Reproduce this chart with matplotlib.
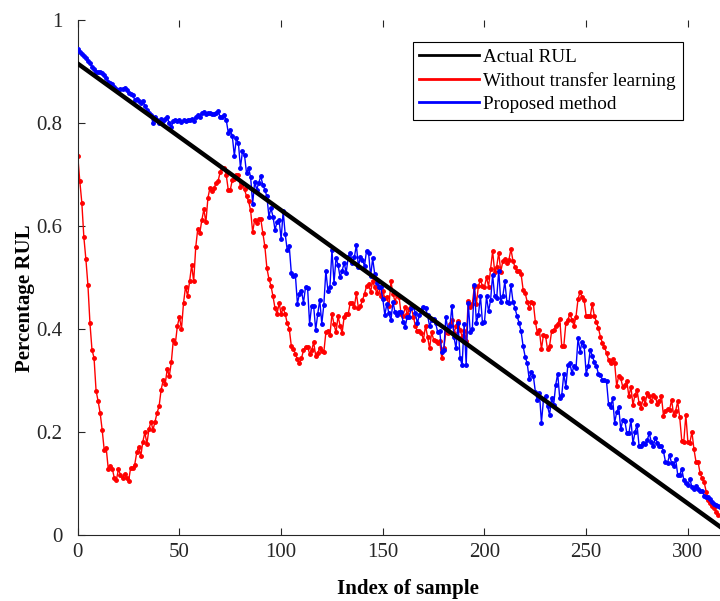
import numpy as np
import matplotlib
matplotlib.use("Agg")
from matplotlib import pyplot as plt

plt.rcParams['font.family'] = ['Liberation Serif', 'DejaVu Serif']

# actual RUL: straight line, end points
actual_x = [0, 315.8]
actual_y = [0.915, 0.016]

# without transfer learning (red), one value per sample
red = [
    0.735, 0.687, 0.645, 0.578, 0.535, 0.485, 0.411, 0.359, 0.344, 0.280,
    0.260, 0.237, 0.204, 0.165, 0.168, 0.128, 0.134, 0.128, 0.110, 0.107,
    0.127, 0.117, 0.110, 0.119, 0.110, 0.105, 0.130, 0.130, 0.136, 0.160,
    0.171, 0.153, 0.181, 0.199, 0.177, 0.205, 0.220, 0.204, 0.220, 0.237,
    0.250, 0.282, 0.300, 0.293, 0.322, 0.308, 0.335, 0.379, 0.372, 0.406,
    0.423, 0.400, 0.450, 0.482, 0.464, 0.492, 0.524, 0.492, 0.558, 0.594,
    0.586, 0.611, 0.632, 0.607,
    0.654, 0.674, 0.667, 0.673, 0.683, 0.687, 0.704, 0.713, 0.713, 0.699,
    0.670, 0.670, 0.689, 0.691, 0.699, 0.699, 0.675, 0.682, 0.671, 0.657,
    0.648, 0.630, 0.588, 0.612, 0.606, 0.613, 0.613, 0.586, 0.560, 0.518,
    0.497, 0.484, 0.463, 0.440, 0.429, 0.450, 0.429, 0.440, 0.429, 0.411,
    0.400, 0.367, 0.361, 0.352, 0.341, 0.333, 0.343, 0.358, 0.365, 0.365,
    0.352, 0.358, 0.374, 0.348, 0.353, 0.363, 0.357, 0.355, 0.393, 0.396,
    0.388, 0.429, 0.409, 0.393,
    0.425, 0.406, 0.392, 0.424, 0.429, 0.429, 0.451, 0.451, 0.443, 0.469,
    0.440, 0.444, 0.456, 0.468, 0.483, 0.487, 0.472, 0.492, 0.482, 0.470,
    0.481, 0.464, 0.474, 0.459, 0.462, 0.444, 0.492, 0.468, 0.453, 0.466,
    0.462, 0.428, 0.425, 0.443, 0.429, 0.438, 0.442, 0.424, 0.406, 0.395,
    0.395, 0.392, 0.379, 0.406, 0.385, 0.362, 0.393, 0.379, 0.376, 0.373,
    0.376, 0.343, 0.362, 0.393, 0.392, 0.410, 0.417, 0.392, 0.405, 0.415,
    0.398, 0.385, 0.395, 0.376,
    0.455, 0.443, 0.448, 0.482, 0.448, 0.483, 0.495, 0.483, 0.482, 0.500,
    0.482, 0.516, 0.551, 0.511, 0.521, 0.548, 0.511, 0.531, 0.536, 0.528,
    0.534, 0.555, 0.532, 0.520, 0.513, 0.513, 0.506, 0.476, 0.469, 0.453,
    0.440, 0.453, 0.451, 0.414, 0.392, 0.397, 0.360, 0.389, 0.387, 0.360,
    0.367, 0.395, 0.397, 0.405, 0.410, 0.419, 0.366, 0.367, 0.411, 0.418,
    0.429, 0.418, 0.406, 0.424, 0.458, 0.472, 0.461, 0.456, 0.425, 0.425,
    0.425, 0.448, 0.425,
    0.414, 0.401, 0.385, 0.372, 0.365, 0.353, 0.340, 0.333, 0.341, 0.333,
    0.289, 0.309, 0.304, 0.287, 0.291, 0.298, 0.269, 0.288, 0.252,
    0.272, 0.281, 0.256, 0.246, 0.266, 0.254, 0.275, 0.269, 0.259,
    0.272, 0.268, 0.254, 0.259, 0.270, 0.231, 0.241, 0.244, 0.243,
    0.262, 0.233, 0.241, 0.259, 0.228, 0.183, 0.181, 0.233, 0.181, 0.179,
    0.200, 0.166, 0.142, 0.142, 0.120, 0.110, 0.102, 0.084, 0.067, 0.062,
    0.057, 0.052, 0.045, 0.039,
]

# proposed method (blue), one value per sample
blue = [
    0.943, 0.938, 0.934, 0.930, 0.925, 0.921, 0.917, 0.909, 0.904, 0.899,
    0.899, 0.899, 0.897, 0.893, 0.888, 0.880, 0.877, 0.875, 0.870, 0.865,
    0.864, 0.865, 0.866, 0.868, 0.864, 0.857, 0.856, 0.854, 0.845, 0.847,
    0.842, 0.839, 0.843, 0.833, 0.825,
    0.820, 0.815, 0.799, 0.812, 0.806, 0.799, 0.807, 0.803, 0.807, 0.811,
    0.799, 0.792, 0.803, 0.806, 0.803, 0.806, 0.801, 0.805, 0.803, 0.806,
    0.805, 0.807, 0.803, 0.812, 0.815, 0.812, 0.819, 0.822,
    0.817, 0.819, 0.819, 0.817, 0.817, 0.820, 0.823, 0.812, 0.811, 0.815,
    0.806, 0.781, 0.787, 0.774, 0.736, 0.770, 0.760, 0.713, 0.745, 0.737,
    0.702, 0.712, 0.695, 0.643, 0.686, 0.670, 0.684, 0.696, 0.680, 0.670,
    0.657, 0.618, 0.634, 0.618, 0.592, 0.608, 0.612, 0.574, 0.628, 0.584,
    0.553, 0.560, 0.509, 0.503, 0.505, 0.449, 0.468, 0.474, 0.451, 0.481,
    0.480, 0.410, 0.445, 0.444, 0.398, 0.429, 0.456, 0.410, 0.447, 0.513,
    0.474, 0.482, 0.553, 0.489, 0.538,
    0.524, 0.500, 0.513, 0.528, 0.509, 0.540, 0.548, 0.528, 0.539, 0.563,
    0.521, 0.540, 0.534, 0.522, 0.552, 0.548, 0.502, 0.537, 0.507, 0.489,
    0.482, 0.481, 0.458, 0.427, 0.449, 0.430, 0.417, 0.453, 0.432, 0.427,
    0.432, 0.432, 0.414, 0.403, 0.424, 0.424, 0.440, 0.445, 0.430, 0.411,
    0.427, 0.436, 0.443, 0.440, 0.427, 0.405, 0.417, 0.419, 0.411, 0.393,
    0.395, 0.356, 0.358, 0.424, 0.398, 0.405, 0.445, 0.384, 0.362, 0.411,
    0.343, 0.330, 0.410, 0.330,
    0.451, 0.393, 0.399, 0.485, 0.412, 0.427, 0.464, 0.412, 0.414, 0.463,
    0.434, 0.456, 0.505, 0.463, 0.460, 0.513, 0.453, 0.463, 0.492, 0.453,
    0.450, 0.485, 0.453, 0.440, 0.425, 0.412, 0.395, 0.366, 0.346, 0.333,
    0.302, 0.317, 0.309, 0.278, 0.261, 0.275, 0.218, 0.263, 0.269, 0.250,
    0.233, 0.265, 0.252, 0.291, 0.313, 0.265, 0.272, 0.313, 0.287, 0.330,
    0.333, 0.314, 0.328, 0.324, 0.382, 0.356, 0.375, 0.367, 0.313, 0.328,
    0.359, 0.348, 0.335, 0.328, 0.313,
    0.311, 0.301, 0.300, 0.298, 0.254, 0.248, 0.265, 0.218, 0.238, 0.248,
    0.205, 0.223, 0.222, 0.197, 0.197, 0.223, 0.178, 0.199, 0.214, 0.173,
    0.173, 0.179, 0.177, 0.184, 0.197, 0.181, 0.172, 0.188, 0.179, 0.173,
    0.173, 0.162, 0.142, 0.140, 0.155, 0.139, 0.134, 0.147, 0.117, 0.117,
    0.128, 0.107, 0.100, 0.097, 0.108, 0.093, 0.089, 0.095, 0.089, 0.086,
    0.086, 0.076, 0.074, 0.073, 0.069, 0.063, 0.060, 0.058, 0.056, 0.055,
    0.054,
]

xticks = [0, 50, 100, 150, 200, 250, 300]
yticks = [0, 0.2, 0.4, 0.6, 0.8, 1]
ytick_labels = ['0', '0.2', '0.4', '0.6', '0.8', '1']

fig = plt.figure(figsize=(7.2, 6.01), dpi=100)
ax = fig.add_axes([0.108, 0.110, 0.892, 0.857])

ax.plot(np.arange(len(red)), red, color='#ff0000', lw=1.0, marker='.', ms=5,
        label='Without transfer learning', zorder=2)
ax.plot(np.arange(len(blue)), blue, color='#0000ff', lw=1.0, marker='.', ms=5,
        label='Proposed method', zorder=3)
ax.plot(actual_x, actual_y, color='black', lw=3.2, label='Actual RUL', zorder=4)

ax.set_xlim(0, 315.8)
ax.set_ylim(0, 1)
ax.set_xticks(xticks)
ax.set_yticks(yticks)
ax.set_yticklabels(ytick_labels)
ax.tick_params(direction='in', length=5, width=0.8, labelsize=15, colors='#262626',
               top=True, right=False)
ax.tick_params(axis='x', pad=6)
ax.tick_params(axis='y', pad=11)
ax.spines['top'].set_visible(False)
ax.spines['right'].set_visible(False)
for s in ['left', 'bottom']:
    ax.spines[s].set_color('#262626')
    ax.spines[s].set_linewidth(0.8)

ax.set_xlabel('Index of sample', fontsize=15, fontweight='bold')
ax.set_ylabel('Percentage RUL', fontsize=15, fontweight='bold')
ax.xaxis.set_label_coords(0.514, -0.085)
ax.yaxis.set_label_coords(-0.066, 0.46)

handles, labels = ax.get_legend_handles_labels()
order = [2, 0, 1]
leg = ax.legend([handles[i] for i in order], [labels[i] for i in order],
                loc='upper right', bbox_to_anchor=(0.942, 0.957), fontsize=13.8,
                frameon=True, fancybox=False, edgecolor='black', framealpha=1,
                handlelength=3.1, handletextpad=0.25, labelspacing=0.3,
                borderpad=0.35, borderaxespad=0)
leg.get_frame().set_linewidth(0.8)
for h in leg.legend_handles:
    h.set_marker('')
    h.set_linewidth(2.0)

fig.savefig('out.png', dpi=100)
